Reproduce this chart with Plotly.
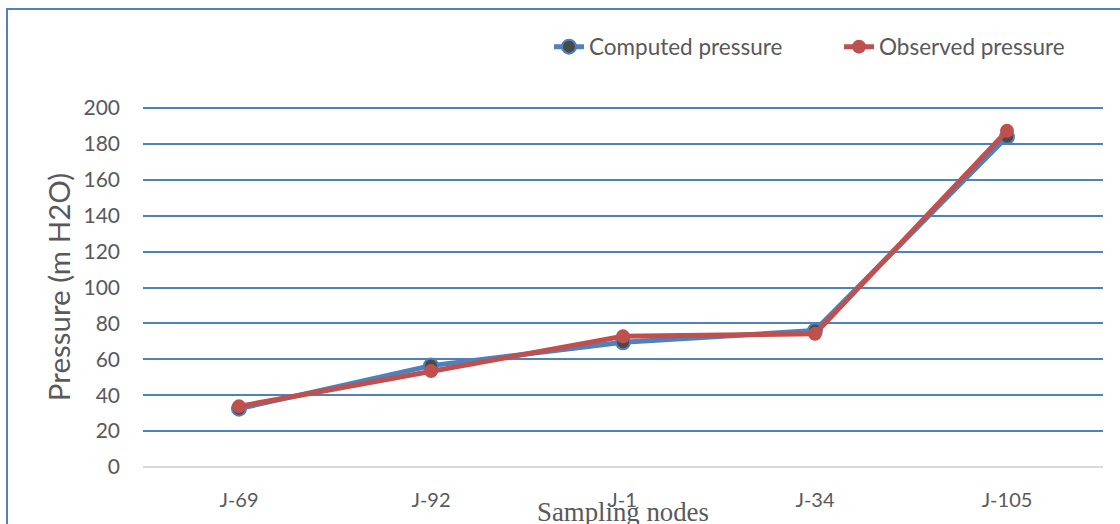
import plotly.graph_objects as go

# Sampling nodes and pressures (m H2O)
nodes = ["J-69", "J-92", "J-1", "J-34", "J-105"]
computed_pressure = [32.5, 56.5, 69.5, 76.0, 184.0]
observed_pressure = [33.8, 53.5, 72.8, 74.2, 187.3]
y_ticks = [0, 20, 40, 60, 80, 100, 120, 140, 160, 180, 200]
y_max = 200.6  # a hair above the top tick so its gridline is kept

W, H = 1120, 524
L, R, T, B = 143, 17, 107, 57
plot_w = W - L - R
plot_h = H - T - B

BLUE = "#4f81bd"
RED = "#c0504d"
GREY_TXT = "#595959"
SANS = "Lato, Carlito, Calibri, sans-serif"


def px_x(p):
    return (p - L) / plot_w


def px_y(p):
    return (T + plot_h - p) / plot_h


fig = go.Figure()
fig.add_trace(go.Scatter(
    x=nodes, y=computed_pressure, name="Computed pressure",
    mode="lines+markers", legend="legend",
    line=dict(color=BLUE, width=5),
    marker=dict(size=14, color="#4a4a4a", line=dict(color=BLUE, width=2)),
))
fig.add_trace(go.Scatter(
    x=nodes, y=observed_pressure, name="Observed pressure",
    mode="lines+markers", legend="legend2",
    line=dict(color=RED, width=5),
    marker=dict(size=14, color=RED),
))

# outer chart frame
fig.add_shape(type="rect", xref="paper", yref="paper",
              x0=px_x(7), x1=px_x(W + 20), y0=px_y(H + 20), y1=px_y(9),
              line=dict(color=BLUE, width=2), layer="below")

fig.add_annotation(text="Sampling nodes", xref="paper", yref="paper",
                   x=0.5, y=px_y(512), xanchor="center", yanchor="middle",
                   showarrow=False,
                   font=dict(family="Liberation Serif, Times New Roman, serif", size=26.8, color=GREY_TXT))

legend_common = dict(font=dict(family=SANS, size=22.5, color=GREY_TXT),
                     bgcolor="rgba(0,0,0,0)", yanchor="middle", xanchor="left",
                     orientation="h")

fig.update_layout(
    width=W, height=H,
    margin=dict(l=L, r=R, t=T, b=B, pad=0, autoexpand=False),
    paper_bgcolor="white", plot_bgcolor="white",
    showlegend=True,
    legend=dict(x=px_x(549), y=px_y(47), **legend_common),
    legend2=dict(x=px_x(839), y=px_y(47), **legend_common),
    xaxis=dict(type="category", range=[-0.5, 4.5], showgrid=False, zeroline=False,
               showline=False, ticks="", ticklabelstandoff=19,
               tickfont=dict(family=SANS, size=20, color=GREY_TXT)),
    yaxis=dict(range=[0, y_max], tickvals=y_ticks, showgrid=True,
               gridcolor=BLUE, gridwidth=1.5, zeroline=True,
               zerolinecolor="#d9d9d9", zerolinewidth=2, showline=False,
               ticks="", ticklabelstandoff=22,
               tickfont=dict(family=SANS, size=21, color=GREY_TXT),
               title=dict(text="Pressure (m H2O)", standoff=4,
                          font=dict(family=SANS, size=29.5, color=GREY_TXT))),
)

fig.write_html("out.html")
